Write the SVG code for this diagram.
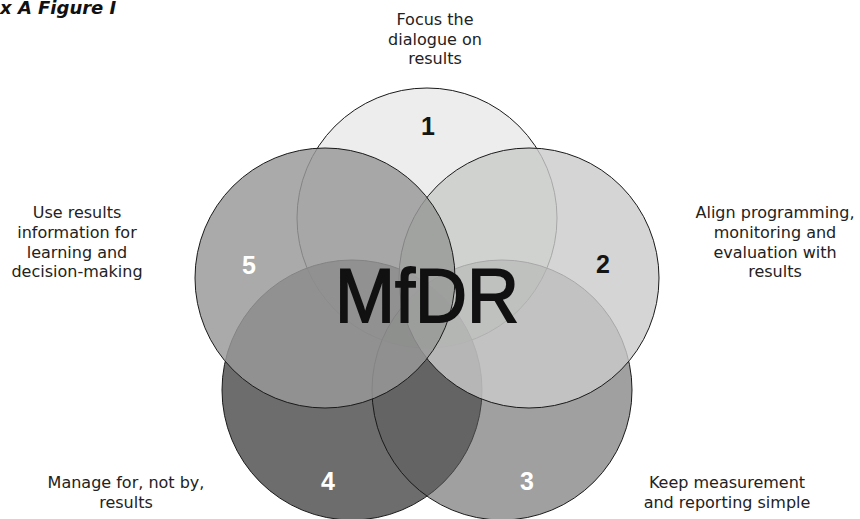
<svg xmlns="http://www.w3.org/2000/svg" width="860" height="519" viewBox="0 0 860 519">
  <style>
    .ring { stroke: #1a1a1a; stroke-width: 1; }
    .label { font-family: "DejaVu Sans", "Liberation Sans", sans-serif; font-size: 16px; fill: #222; text-anchor: middle; }
    .num { font-family: "Liberation Sans", Arial, sans-serif; font-size: 25px; font-weight: bold; text-anchor: middle; }
    .dark { fill: #151515; }
    .light { fill: #ffffff; }
    .title { font-family: "DejaVu Sans", Verdana, sans-serif; font-size: 18px; font-weight: bold; font-style: italic; fill: #111; }
    .core { font-family: "Liberation Sans", Arial, sans-serif; font-size: 76px; fill: #111; stroke: #111; stroke-width: 1.8; text-anchor: middle; }
  </style>

  <rect width="860" height="519" fill="#ffffff"/>

  <text class="title" x="0" y="14">x A Figure I</text>

  <!-- five overlapping principles, drawn bottom to top -->
  <g id="node-1">
    <circle class="ring" cx="427" cy="218" r="130" fill="#ecedec"/>
    <text class="num dark" x="428" y="135">1</text>
    <text class="label" x="435" y="25">Focus the</text>
    <text class="label" x="435" y="44.5">dialogue on</text>
    <text class="label" x="435" y="64">results</text>
  </g>

  <g id="node-4">
    <circle class="ring" cx="352" cy="390" r="130" fill="rgb(84,84,84)" fill-opacity="0.85"/>
    <text class="num light" x="328" y="490">4</text>
    <text class="label" x="126" y="488">Manage for, not by,</text>
    <text class="label" x="126" y="508">results</text>
  </g>

  <g id="node-3">
    <circle class="ring" cx="502" cy="390" r="130" fill="rgb(93,94,93)" fill-opacity="0.59"/>
    <text class="num light" x="527" y="490">3</text>
    <text class="label" x="727" y="488">Keep measurement</text>
    <text class="label" x="727" y="508">and reporting simple</text>
  </g>

  <g id="node-2">
    <circle class="ring" cx="529" cy="278" r="130" fill="rgb(201,202,201)" fill-opacity="0.8"/>
    <text class="num dark" x="603" y="273">2</text>
    <text class="label" x="775" y="218">Align programming,</text>
    <text class="label" x="775" y="238">monitoring and</text>
    <text class="label" x="775" y="257.5">evaluation with</text>
    <text class="label" x="775" y="277">results</text>
  </g>

  <g id="node-5">
    <circle class="ring" cx="325" cy="278" r="130" fill="rgb(152,153,152)" fill-opacity="0.83"/>
    <text class="num light" x="249" y="274">5</text>
    <text class="label" x="77" y="218">Use results</text>
    <text class="label" x="77" y="238">information for</text>
    <text class="label" x="77" y="257.5">learning and</text>
    <text class="label" x="77" y="277">decision-making</text>
  </g>

  <g id="centre">
    <text class="core" x="427" y="322" textLength="184" lengthAdjust="spacingAndGlyphs">MfDR</text>
  </g>
</svg>
